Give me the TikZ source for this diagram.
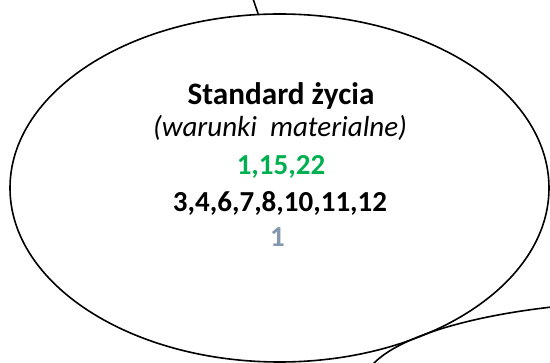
\documentclass[tikz,border=0pt]{standalone}
\usepackage{fontspec}
\setmainfont{Carlito}
\usetikzlibrary{shapes.geometric}
\definecolor{txtgreen}{RGB}{0,176,80}
\definecolor{txtgray}{RGB}{132,151,176}
\tikzset{
  bubble/.style={draw=black, line width=1.6pt, ellipse, inner sep=0pt},
  linetext/.style={anchor=base, inner sep=0pt, font=\fontsize{29}{29}\selectfont},
  conn/.style={draw=black, line width=1.6pt}
}
\begin{document}
\begin{tikzpicture}[x=1pt,y=-1pt]
\useasboundingbox (0,0) rectangle (550,363);
\clip (0,0) rectangle (550,363);
\node[bubble, minimum width=600pt, minimum height=170pt] (other) at (663,386) {};
\node[bubble, minimum width=539pt, minimum height=348pt] (big) at (279.5,188) {};
\coordinate (top) at (250,-10);
\draw[conn] (top) -- (big.97.7);
\node[linetext, font=\bfseries\fontsize{31.2}{31}\selectfont] (title) at (281,104.5) {Standard życia};
\node[linetext, font=\itshape\fontsize{29}{29}\selectfont] (sub) at (280,137) {(warunki\ \ materialne)};
\node[linetext, font=\bfseries\fontsize{29}{29}\selectfont, text=txtgreen] (green) at (281,175) {1,15,22};
\node[linetext, font=\bfseries\fontsize{29}{29}\selectfont] (black) at (280,212) {3,4,6,7,8,10,11,12};
\node[linetext, font=\bfseries\fontsize{29}{29}\selectfont, text=txtgray] (gray) at (277.5,247) {1};
\end{tikzpicture}
\end{document}
